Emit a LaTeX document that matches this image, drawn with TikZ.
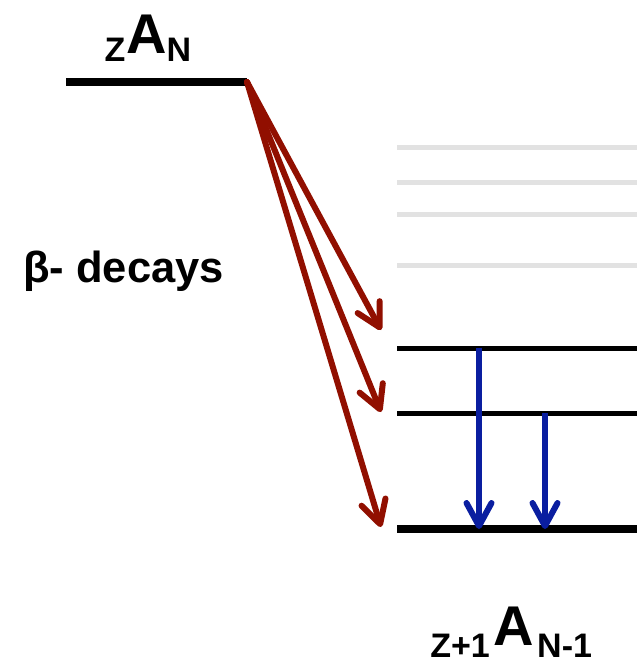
\documentclass[tikz,border=0pt]{standalone}
\usepackage{fontspec}
\setmainfont{Liberation Sans}
\usepackage{tikz}
\usetikzlibrary{arrows.meta}
\usetikzlibrary{positioning}

\definecolor{decayred}{RGB}{145,15,0}
\definecolor{gammablue}{RGB}{10,30,160}
\definecolor{ghostgrey}{RGB}{226,226,226}

\begin{document}
\begin{tikzpicture}[x=1pt,y=-1pt,
    level/.style={line width=5pt},
    ground/.style={line width=8pt},
    ghost/.style={line width=5pt, ghostgrey},
    decay/.style={line width=6pt, decayred, line cap=round,
        -{Straight Barb[length=23pt,width=25pt,round]}},
    gamma/.style={line width=6pt, gammablue,
        -{Straight Barb[length=23pt,width=25pt,round]}},
    big/.style={font=\fontsize{56}{56}\selectfont\bfseries, inner sep=0pt, anchor=base},
    small/.style={font=\fontsize{34}{34}\selectfont\bfseries, inner sep=0pt, anchor=base}]
        \useasboundingbox (0,0) rectangle (637,663);

        % parent level
        \coordinate (pL) at (66,82);
        \coordinate (pR) at (247,82);
        \draw[ground] (pL) -- (pR);
        \node[small] (pZ) at (115,62) {Z};
        \node[big] (pA) at (147,54) {A};
        \node[small] (pN) at (179,62) {N};

        % daughter levels
        \draw[ghost] (397,148) -- (637,148);
        \draw[ghost] (397,182) -- (637,182);
        \draw[ghost] (397,214) -- (637,214);
        \draw[ghost] (397,265) -- (637,265);
        \coordinate (d2) at (397,348);
        \coordinate (d1) at (397,413);
        \coordinate (d0) at (397,529);
        \draw[level] (d2) -- ++(240,0);
        \draw[level] (d1) -- ++(240,0);
        \draw[ground] (d0) -- ++(240,0);

        \node[small, anchor=base east] (dZ) at (490,657) {Z+1};
        \node[big] (dA) at (514,645) {A};
        \node[small, anchor=base west] (dN) at (537,657) {N-1};

        % beta decays
        \node[font=\fontsize{43.5}{43.5}\selectfont\bfseries, inner sep=0pt, anchor=base west] (lbl) at (23,282) {β- decays};
        \coordinate (e2) at (381,330);
        \coordinate (e1) at (381,412);
        \coordinate (e0) at (381,527);
        \draw[decay] (pR) -- (e2);
        \draw[decay] (pR) -- (e1);
        \draw[decay] (pR) -- (e0);

        % gammas
        \coordinate (g2t) at (479,348);
        \coordinate (g2b) at (479,529);
        \coordinate (g1t) at (545,413);
        \coordinate (g1b) at (545,529);
        \draw[gamma] (g2t) -- (g2b);
        \draw[gamma] (g1t) -- (g1b);
    \end{tikzpicture}
\end{document}
